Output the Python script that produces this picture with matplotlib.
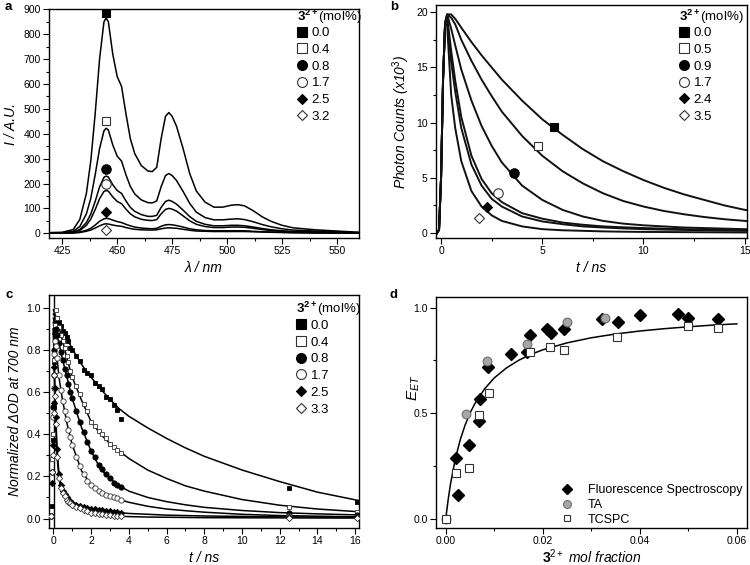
import matplotlib
matplotlib.use("Agg")
import matplotlib.pyplot as plt
from matplotlib.lines import Line2D
from matplotlib.ticker import MultipleLocator, FormatStrFormatter

plt.rcParams['font.family'] = ['Liberation Sans', 'DejaVu Sans']
plt.rcParams['mathtext.fontset'] = 'custom'
plt.rcParams['mathtext.rm'] = 'Liberation Sans'
plt.rcParams['mathtext.it'] = 'Liberation Sans:italic'
plt.rcParams['mathtext.bf'] = 'Liberation Sans:bold'

# ---------------- Panel a: emission spectra ----------------
wl = [420, 425, 430, 433, 436, 438, 440, 442, 444, 445, 446, 448, 450, 452, 454, 456, 458,
      461, 464, 466, 468, 470, 472, 473.5, 475, 477, 480, 483, 486, 490, 494, 498, 502, 505,
      508, 512, 516, 520, 525, 530, 540, 550, 560]
spec_00 = [3, 4, 15, 55, 160, 290, 480, 700, 850, 865, 850, 720, 630, 590, 480, 380, 320,
           272, 250, 248, 265, 380, 470, 485, 470, 430, 340, 240, 170, 125, 105, 105, 113, 115,
           110, 90, 66, 48, 32, 22, 14, 9, 4]
spec_04 = [2, 2, 8, 27, 78, 140, 235, 340, 412, 422, 415, 355, 310, 290, 235, 188, 158,
           134, 123, 122, 130, 187, 232, 240, 232, 212, 168, 120, 85, 63, 54, 54, 57, 58,
           55, 46, 35, 26, 18, 13, 9, 6, 3]
spec_08 = [1, 2, 5, 15, 43, 77, 128, 186, 225, 230, 226, 195, 172, 160, 130, 104, 88,
           75, 68, 68, 72, 104, 128, 133, 128, 117, 93, 67, 48, 36, 30, 30, 32, 32,
           30, 25, 19, 14, 10, 7, 5, 3, 2]
spec_17 = [1, 1, 4, 11, 32, 57, 95, 139, 168, 172, 169, 146, 128, 119, 97, 78, 66,
           56, 52, 51, 55, 78, 96, 100, 97, 89, 70, 50, 36, 27, 23, 23, 25, 25,
           24, 20, 15, 11, 8, 6, 4, 2, 1]
spec_25 = [0, 1, 2, 5, 12, 20, 33, 48, 58, 60, 59, 53, 47, 43, 36, 30, 25,
           21, 19, 18, 20, 28, 34, 35, 34, 31, 25, 18, 14, 11, 10, 10, 10, 10,
           10, 8, 6, 5, 4, 3, 2, 1, 1]
spec_32 = [0, 1, 1, 3, 8, 13, 21, 30, 37, 38, 37, 33, 30, 28, 23, 19, 16,
           14, 13, 13, 14, 18, 21, 22, 21, 20, 16, 12, 9, 8, 7, 7, 7, 7,
           7, 6, 5, 4, 3, 2, 1, 1, 1]
a_labels = ['0.0', '0.4', '0.8', '1.7', '2.5', '3.2']
a_marker_x = [445, 445, 445, 445, 445, 445]
a_marker_y = [885, 450, 258, 198, 85, 15]

# ---------------- Panel b: fluorescence decays (TCSPC) ----------------
tb = [-0.2, -0.1, 0.0, 0.1, 0.2, 0.3, 0.5, 0.7, 1.0, 1.5, 2.0, 2.5, 3.0, 4.0, 5.0, 6.0,
      7.0, 8.0, 9.0, 10.0, 11.0, 12.0, 13.0, 14.0, 15.0, 15.2]
dec_00 = [0, 0.3, 5, 14, 19, 19.8, 19.8, 19.4, 18.6, 17.3, 16.1, 15.0, 13.9, 12.0, 10.3, 8.9,
          7.6, 6.5, 5.6, 4.8, 4.1, 3.5, 3.0, 2.5, 2.1, 2.05]
dec_05 = [0, 0.3, 5, 14, 19, 19.8, 19.5, 18.9, 17.5, 15.6, 13.9, 12.4, 11.0, 8.8, 7.0, 5.6,
          4.5, 3.6, 2.9, 2.4, 2.0, 1.7, 1.45, 1.25, 1.1, 1.07]
dec_09 = [0, 0.3, 5, 14, 19, 19.8, 18.5, 17.0, 14.8, 12.0, 9.7, 7.9, 6.4, 4.3, 3.0, 2.1,
          1.5, 1.1, 0.85, 0.7, 0.6, 0.5, 0.45, 0.4, 0.35, 0.35]
dec_17 = [0, 0.3, 5, 14, 19, 19.6, 16.5, 13.8, 10.5, 7.0, 4.9, 3.6, 2.8, 1.8, 1.3, 0.95,
          0.75, 0.6, 0.52, 0.45, 0.4, 0.35, 0.31, 0.28, 0.25, 0.25]
dec_24 = [0, 0.3, 5, 14, 19, 19.4, 15.5, 12.8, 9.5, 6.2, 4.3, 3.1, 2.4, 1.5, 1.05, 0.8,
          0.6, 0.5, 0.42, 0.35, 0.31, 0.28, 0.25, 0.22, 0.2, 0.2]
dec_35 = [0, 0.3, 5, 14, 19, 18.8, 12.5, 9.5, 6.5, 3.8, 2.4, 1.6, 1.1, 0.6, 0.35, 0.25,
          0.2, 0.15, 0.12, 0.1, 0.09, 0.08, 0.07, 0.06, 0.05, 0.05]
b_labels = ['0.0', '0.5', '0.9', '1.7', '2.4', '3.5']
b_marker_x = [5.6, 4.8, 3.6, 2.8, 2.25, 1.85]
b_marker_y = [9.6, 7.9, 5.4, 3.6, 2.35, 1.4]

# ---------------- Panel c: transient absorption at 700 nm ----------------
tc = [-0.1, -0.05, 0.0, 0.02, 0.05, 0.08, 0.12, 0.2, 0.3, 0.4, 0.5, 0.6, 0.7, 0.8, 0.9, 1.0,
      1.2, 1.4, 1.6, 1.8, 2.0, 2.2, 2.4, 2.6, 2.8, 3.0, 3.2, 3.4, 3.6, 12.5, 16.1]
ta_00 = [0.01, 0.06, 0.37, 0.53, 0.74, 0.86, 0.93, 0.95, 0.93, 0.915, 0.89, 0.88, 0.86, 0.84,
         0.81, 0.80, 0.77, 0.745, 0.705, 0.69, 0.68, 0.645, 0.63, 0.615, 0.575, 0.565, 0.54,
         0.515, 0.47, 0.145, 0.08]
ta_04 = [0.01, 0.28, 0.40, 0.55, 0.75, 0.92, 0.99, 0.95, 0.91, 0.87, 0.84, 0.81, 0.77, 0.74,
         0.70, 0.67, 0.63, 0.59, 0.545, 0.51, 0.46, 0.44, 0.415, 0.40, 0.38, 0.355, 0.34, 0.325,
         0.31, 0.055, 0.03]
ta_08 = [0.01, 0.22, 0.53, 0.68, 0.80, 0.88, 0.90, 0.87, 0.83, 0.79, 0.75, 0.71, 0.68, 0.64,
         0.60, 0.57, 0.51, 0.46, 0.41, 0.365, 0.32, 0.29, 0.255, 0.235, 0.21, 0.19, 0.17,
         0.16, 0.15, 0.025, 0.018]
ta_17 = [0.01, 0.22, 0.48, 0.62, 0.78, 0.84, 0.82, 0.76, 0.68, 0.61, 0.555, 0.51, 0.47, 0.42,
         0.385, 0.35, 0.29, 0.25, 0.21, 0.18, 0.16, 0.145, 0.13, 0.12, 0.11, 0.105, 0.10,
         0.095, 0.09, 0.012, 0.008]
ta_25 = [0.01, 0.17, 0.35, 0.55, 0.72, 0.62, 0.48, 0.33, 0.21, 0.16, 0.13, 0.115, 0.10, 0.09,
         0.082, 0.075, 0.065, 0.06, 0.055, 0.05, 0.047, 0.045, 0.042, 0.04, 0.037, 0.035, 0.033,
         0.03, 0.028, 0.008, 0.006]
ta_33 = [0.01, 0.22, 0.30, 0.50, 0.68, 0.58, 0.45, 0.29, 0.19, 0.145, 0.12, 0.105, 0.09, 0.08,
         0.072, 0.065, 0.055, 0.048, 0.042, 0.035, 0.028, 0.025, 0.022, 0.02, 0.018, 0.015, 0.013,
         0.011, 0.01, 0.003, 0.002]
tfit = [0.0, 0.1, 0.2, 0.3, 0.4, 0.5, 0.75, 1.0, 1.5, 2.0, 2.5, 3.0, 3.5, 4.0, 5.0, 6.0, 7.0,
        8.0, 10.0, 12.0, 14.0, 16.2]
fit_00 = [0.97, 0.955, 0.94, 0.925, 0.91, 0.895, 0.85, 0.805, 0.73, 0.67, 0.615, 0.565, 0.52,
          0.485, 0.43, 0.38, 0.335, 0.295, 0.23, 0.175, 0.125, 0.085]
fit_04 = [0.99, 0.965, 0.94, 0.91, 0.87, 0.84, 0.75, 0.67, 0.56, 0.46, 0.40, 0.355, 0.32, 0.285,
          0.23, 0.19, 0.155, 0.13, 0.09, 0.063, 0.045, 0.032]
fit_08 = [0.95, 0.91, 0.87, 0.83, 0.79, 0.75, 0.66, 0.57, 0.43, 0.32, 0.235, 0.19, 0.155, 0.13,
          0.10, 0.08, 0.065, 0.053, 0.038, 0.028, 0.022, 0.017]
fit_17 = [0.93, 0.84, 0.76, 0.67, 0.61, 0.555, 0.44, 0.35, 0.225, 0.16, 0.125, 0.105, 0.09,
          0.077, 0.058, 0.045, 0.037, 0.03, 0.02, 0.014, 0.011, 0.008]
fit_25 = [0.90, 0.55, 0.33, 0.21, 0.16, 0.13, 0.095, 0.075, 0.057, 0.047, 0.04, 0.033, 0.028,
          0.024, 0.02, 0.016, 0.014, 0.012, 0.01, 0.008, 0.007, 0.006]
fit_33 = [0.90, 0.50, 0.29, 0.19, 0.145, 0.12, 0.085, 0.065, 0.042, 0.028, 0.02, 0.014, 0.011,
          0.009, 0.007, 0.006, 0.005, 0.004, 0.0035, 0.003, 0.0025, 0.002]
c_labels = ['0.0', '0.4', '0.8', '1.7', '2.5', '3.3']
c_zero_line = 0.02   # vertical line at time zero

# ---------------- Panel d: energy transfer efficiency ----------------
fl_x = [0.00206, 0.00247, 0.00488, 0.00694, 0.00701, 0.0088, 0.01347, 0.0167, 0.0173, 0.0209,
        0.0216, 0.0243, 0.0323, 0.0356, 0.0401, 0.0478, 0.0499, 0.0562]
fl_y = [0.290, 0.114, 0.350, 0.461, 0.568, 0.721, 0.779, 0.792, 0.872, 0.897,
        0.879, 0.897, 0.945, 0.931, 0.965, 0.968, 0.952, 0.944]
ta_x = [0.0, 0.00426, 0.0086, 0.01684, 0.0250, 0.0328]
ta_y = [0.0, 0.495, 0.746, 0.826, 0.930, 0.950]
tcspc_x = [0.0, 0.00206, 0.00474, 0.00694, 0.00887, 0.0173, 0.0215, 0.0243, 0.0354, 0.0499, 0.0562]
tcspc_y = [0.0, 0.216, 0.241, 0.490, 0.595, 0.792, 0.814, 0.797, 0.863, 0.913, 0.905]
dfit_x = [0.0, 0.0005, 0.001, 0.002, 0.003, 0.004, 0.005, 0.006, 0.008, 0.010, 0.0125, 0.015,
          0.0175, 0.02, 0.025, 0.03, 0.035, 0.04, 0.045, 0.05, 0.055, 0.06]
dfit_y = [0.0, 0.09, 0.167, 0.286, 0.375, 0.444, 0.5, 0.545, 0.615, 0.667, 0.714, 0.75,
          0.778, 0.8, 0.833, 0.857, 0.875, 0.889, 0.9, 0.909, 0.917, 0.923]
d_labels = ['Fluorescence Spectroscopy', 'TA', 'TCSPC']

# ---------------- styling ----------------
W, H = 750, 565
fig = plt.figure(figsize=(7.5, 5.65), dpi=100)

def axes_px(l, t, r, b):
    return fig.add_axes([l / W, 1 - b / H, (r - l) / W, (b - t) / H])

ax_a = axes_px(49, 9.3, 359, 238)
ax_b = axes_px(436, 5, 746.7, 238)
ax_c = axes_px(49, 295, 359, 528)
ax_d = axes_px(436, 297, 747, 528)

mk = [dict(marker='s', mfc='black', mec='black'),
      dict(marker='s', mfc='white', mec='#333333'),
      dict(marker='o', mfc='black', mec='black'),
      dict(marker='o', mfc='white', mec='#333333'),
      dict(marker='D', mfc='black', mec='black'),
      dict(marker='D', mfc='white', mec='#333333')]
msz = [6.3, 6.3, 6.8, 6.8, 5.0, 5.0]

def style(ax):
    for s in ax.spines.values():
        s.set_linewidth(1.0)
    ax.tick_params(which='major', direction='out', length=4, width=0.8, labelsize=7.5, pad=2)
    ax.tick_params(which='minor', direction='out', length=2.3, width=0.8)

def mol_legend(ax, labels, bbox):
    handles = [Line2D([], [], linestyle='none', markersize=msz[i] * 1.05, mew=0.8, **mk[i])
               for i in range(6)]
    leg = ax.legend(handles, labels, title=r'$\mathbf{3}^{\mathbf{2+}}$(mol%)',
                    loc='upper left', bbox_to_anchor=bbox, frameon=False, fontsize=9.5,
                    title_fontsize=9.5, handlelength=0.8, handletextpad=0.3,
                    labelspacing=0.34, borderpad=0, borderaxespad=0, alignment='left')
    leg._legend_box.sep = 1
    return leg

# Panel a
for i, s in enumerate([spec_00, spec_04, spec_08, spec_17, spec_25, spec_32]):
    ax_a.plot(wl, s, color='black', lw=1.1)
    ax_a.plot(a_marker_x[i], a_marker_y[i], linestyle='none', markersize=msz[i], mew=0.8,
              zorder=3, **mk[i])
ax_a.set_xlim(419, 560)
ax_a.set_ylim(-19, 900)
ax_a.xaxis.set_major_locator(MultipleLocator(25))
ax_a.xaxis.set_minor_locator(MultipleLocator(12.5))
ax_a.yaxis.set_major_locator(MultipleLocator(100))
ax_a.yaxis.set_minor_locator(MultipleLocator(50))
ax_a.set_xlabel('λ / nm', fontsize=10, style='italic', labelpad=3)
ax_a.set_ylabel('I / A.U.', fontsize=10, style='italic', labelpad=4)
style(ax_a)
mol_legend(ax_a, a_labels, (0.800, 1.008))

# Panel b
for i, s in enumerate([dec_00, dec_05, dec_09, dec_17, dec_24, dec_35]):
    ax_b.plot(tb, s, color='#111111', lw=1.4)
    ax_b.plot(b_marker_x[i], b_marker_y[i], linestyle='none', markersize=msz[i], mew=0.8,
              zorder=3, **mk[i])
ax_b.set_xlim(-0.25, 15.1)
ax_b.set_ylim(-0.45, 20.65)
ax_b.xaxis.set_major_locator(MultipleLocator(5))
ax_b.xaxis.set_minor_locator(MultipleLocator(2.5))
ax_b.yaxis.set_major_locator(MultipleLocator(5))
ax_b.yaxis.set_minor_locator(MultipleLocator(2.5))
ax_b.set_xlabel('t / ns', fontsize=10, style='italic', labelpad=3)
ax_b.set_ylabel(r'Photon Counts (x10$^{3}$)', fontsize=10, style='italic', labelpad=3)
style(ax_b)
mol_legend(ax_b, b_labels, (0.782, 0.99))

# Panel c
csz = [3.5, 3.5, 3.8, 3.8, 3.2, 3.2]
ax_c.axvline(c_zero_line, color='black', lw=1.0, zorder=1)
for i, s in enumerate([ta_00, ta_04, ta_08, ta_17, ta_25, ta_33]):
    ax_c.plot(tc, s, linestyle='none', markersize=csz[i], mew=0.6, zorder=3, **mk[i])
for f in [fit_00, fit_04, fit_08, fit_17, fit_25, fit_33]:
    ax_c.plot(tfit, f, color='black', lw=1.1, zorder=2)
ax_c.set_xlim(-0.23, 16.2)
ax_c.set_ylim(-0.045, 1.06)
ax_c.xaxis.set_major_locator(MultipleLocator(2))
ax_c.xaxis.set_minor_locator(MultipleLocator(1))
ax_c.yaxis.set_major_locator(MultipleLocator(0.2))
ax_c.yaxis.set_minor_locator(MultipleLocator(0.1))
ax_c.yaxis.set_major_formatter(FormatStrFormatter('%.1f'))
ax_c.set_xlabel('t / ns', fontsize=10, style='italic', labelpad=3)
ax_c.set_ylabel('Normalized ΔOD at 700 nm', fontsize=10, style='italic', labelpad=3)
style(ax_c)
mol_legend(ax_c, c_labels, (0.797, 0.978))

# Panel d
ax_d.plot(dfit_x, dfit_y, color='black', lw=1.1, zorder=2)
h1, = ax_d.plot(fl_x, fl_y, linestyle='none', marker='D', ms=5.8, mfc='black', mec='black', zorder=3)
h2, = ax_d.plot(ta_x, ta_y, linestyle='none', marker='o', ms=6.3, mfc='#a6a6a6', mec='#6e6e6e',
                mew=0.8, zorder=4)
h3, = ax_d.plot(tcspc_x, tcspc_y, linestyle='none', marker='s', ms=5.5, mfc='white', mec='#333333',
                mew=0.8, zorder=5)
ax_d.set_xlim(-0.002, 0.0621)
ax_d.set_ylim(-0.043, 1.05)
ax_d.xaxis.set_major_locator(MultipleLocator(0.02))
ax_d.xaxis.set_minor_locator(MultipleLocator(0.01))
ax_d.yaxis.set_major_locator(MultipleLocator(0.5))
ax_d.yaxis.set_minor_locator(MultipleLocator(0.25))
ax_d.xaxis.set_major_formatter(FormatStrFormatter('%.2f'))
ax_d.yaxis.set_major_formatter(FormatStrFormatter('%.1f'))
ax_d.set_xlabel(r'$\mathbf{3}^{2+}$ mol fraction', fontsize=10, style='italic', labelpad=0.5)
ax_d.set_ylabel(r'$E_{ET}$', fontsize=11)
ax_d.yaxis.set_label_coords(-0.045, 0.605)
style(ax_d)
leg_d = ax_d.legend([h1, h2, h3], d_labels, loc='lower right', bbox_to_anchor=(0.985, 0.01),
                    frameon=False, fontsize=9, handlelength=1.0, handletextpad=1.2,
                    labelspacing=0.22, borderpad=0, borderaxespad=0, markerscale=0.9)

# panel letters
for txt, x, y in [('a', 5, 7), ('b', 390, 7), ('c', 5, 295), ('d', 390, 295)]:
    fig.text(x / W, 1 - y / H, txt, fontsize=9.5, fontweight='bold', ha='left', va='center')

fig.savefig('out.png', dpi=100)
